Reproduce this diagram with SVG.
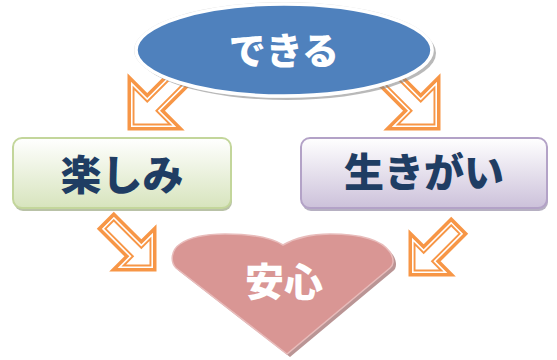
<svg xmlns="http://www.w3.org/2000/svg" xmlns:xlink="http://www.w3.org/1999/xlink" width="557" height="360" viewBox="0 0 557 360">
<style>
.lbl{font-family:"Noto Sans CJK JP","Noto Sans CJK SC",sans-serif;font-weight:900;text-anchor:middle;dominant-baseline:central}
.dark{fill:#1f3d63}
.white{fill:#ffffff}
.arrowOuter{fill:#ffffff;stroke:#f79646;stroke-width:7;stroke-linejoin:miter}
.arrowInner{fill:none;stroke:#ffffff;stroke-width:3.2;stroke-linejoin:miter}
</style>
<defs>
<path id="arrBig" d="M0,0 L-32,-32 L-32,-9 L-95,-9 L-95,9 L-32,9 L-32,32 Z"/>
<path id="arrSmall" d="M0,0 L-25,-25 L-25,-8.5 L-64,-8.5 L-64,8.5 L-25,8.5 L-25,25 Z"/>
<clipPath id="clipBig"><use xlink:href="#arrBig"/></clipPath>
<clipPath id="clipSmall"><use xlink:href="#arrSmall"/></clipPath>
<linearGradient id="gGreen" x1="0" y1="0" x2="0" y2="1">
<stop offset="0" stop-color="#ffffff"/><stop offset="1" stop-color="#d7e4bd"/>
</linearGradient>
<linearGradient id="gPurple" x1="0" y1="0" x2="0" y2="1">
<stop offset="0" stop-color="#ffffff"/><stop offset="1" stop-color="#ccc1da"/>
</linearGradient>
</defs>
<rect width="557" height="360" fill="#ffffff"/>
<g id="connectors">
<g id="arrow-top-left" transform="translate(131,127) rotate(135)">
<use xlink:href="#arrBig" class="arrowOuter"/>
<use xlink:href="#arrBig" class="arrowInner" clip-path="url(#clipBig)"/>
</g>
<g id="arrow-top-right" transform="translate(437,127) rotate(45)">
<use xlink:href="#arrBig" class="arrowOuter"/>
<use xlink:href="#arrBig" class="arrowInner" clip-path="url(#clipBig)"/>
</g>
<g id="arrow-bottom-left" transform="translate(153,268) rotate(45)">
<use xlink:href="#arrSmall" class="arrowOuter"/>
<use xlink:href="#arrSmall" class="arrowInner" clip-path="url(#clipSmall)"/>
</g>
<g id="arrow-bottom-right" transform="translate(412,273) rotate(135)">
<use xlink:href="#arrSmall" class="arrowOuter"/>
<use xlink:href="#arrSmall" class="arrowInner" clip-path="url(#clipSmall)"/>
</g>
</g>
<g id="node-dekiru">
<ellipse cx="287" cy="53" rx="149" ry="47" fill="#7f7f7f" opacity="0.55"/>
<ellipse cx="284" cy="50" rx="150" ry="48" fill="#d9d9d9"/>
<ellipse cx="284" cy="50" rx="148" ry="46" fill="#4f81bd" stroke="#ffffff" stroke-width="3.5"/>
<text class="lbl white" x="284" y="49" font-size="37">できる</text>
</g>
<g id="node-tanoshimi">
<rect x="14" y="141" width="218" height="70" rx="9" fill="#7f8f5f" opacity="0.55"/>
<rect x="13" y="138" width="218" height="70" rx="9" fill="url(#gGreen)" stroke="#c3d69b" stroke-width="2"/>
<text class="lbl dark" x="122" y="172" font-size="41">楽しみ</text>
</g>
<g id="node-ikigai">
<rect x="302" y="141" width="246" height="70" rx="9" fill="#7a6f90" opacity="0.55"/>
<rect x="301" y="138" width="246" height="70" rx="9" fill="url(#gPurple)" stroke="#b3a2c7" stroke-width="2"/>
<text class="lbl dark" x="424" y="170" font-size="40">生きがい</text>
</g>
<g id="node-anshin">
<path transform="translate(3,3)" d="M283,245 C295,238 310,234 330,234 C355,234 380,238 390,252 C395,260 393,266 390,268 L287,354 L176,268 C170,262 171,250 180,244 C190,237 205,234 225,234 C250,234 270,237 283,245 Z" fill="#8c4f4e" opacity="0.6"/>
<path d="M283,245 C295,238 310,234 330,234 C355,234 380,238 390,252 C395,260 393,266 390,268 L287,354 L176,268 C170,262 171,250 180,244 C190,237 205,234 225,234 C250,234 270,237 283,245 Z" fill="#d99694" stroke="#e8bcbb" stroke-width="1.5"/>
<text class="lbl white" x="284" y="279" font-size="39">安心</text>
</g>
</svg>
